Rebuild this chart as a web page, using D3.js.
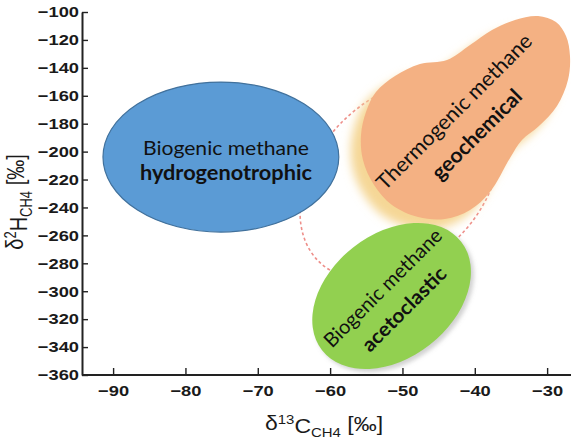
<!DOCTYPE html>
<html><head><meta charset="utf-8">
<script src="https://cdn.jsdelivr.net/npm/d3@7"></script>
<style>body{margin:0;background:#fff}svg{display:block}</style>
</head><body>
<svg id="c" width="571" height="439"></svg>
<script>
// ---- data (isotope space: δ13C ‰, δ2H ‰) ----
const xTicks = [-90, -80, -70, -60, -50, -40, -30];
const yTicks = [-100, -120, -140, -160, -180, -200, -220, -240, -260, -280, -300, -320, -340, -360];
const xDomain = [-94.3, -26.7];
const yDomain = [-360, -100];

// elliptical fields
const shapeRegion = ["hydrogenotrophic", "acetoclastic"];
const shapeCx = [-75.1, -51.5];      // δ13C centre
const shapeCy = [-203.9, -303.4];    // δ2H centre
const shapeRx = [16.3, 12.2];        // δ13C half-width
const shapeRy = [53.7, 44.4];        // δ2H half-height
const shapeAngle = [0, -38];

// thermogenic field outline (δ13C, δ2H)
const thermoD13C = [-43.84, -40.66, -37.62, -34.44, -31.26, -28.78, -27.39, -26.84, -27.12, -28.64, -31.13, -33.48,
  -35.13, -37.90, -40.66, -44.12, -47.85, -51.45, -53.93, -55.46, -55.73, -55.04, -53.66, -51.03, -47.58];
const thermoD2H = [-134.38, -123.64, -112.89, -105.73, -102.86, -107.16, -117.19, -131.51, -148.70, -167.33, -181.65, -191.68,
  -204.57, -228.92, -241.81, -248.26, -246.83, -238.23, -223.91, -206.00, -188.10, -171.62, -157.30, -145.84, -137.24];

// dashed envelope
const envCx = [-50.35], envCy = [-220.3], envRx = [15.9], envRy = [58.7], envAngle = [-45];

// labels
const labelRegion = ["hydrogenotrophic", "geochemical", "acetoclastic"];
const labelLine1 = ["Biogenic methane", "Thermogenic methane", "Biogenic methane"];
const labelLine2 = ["hydrogenotrophic", "geochemical", "acetoclastic"];
const labelX = [-74.4, -41.3, -51.25];
const labelY = [-206.7, -179.5, -305.2];
const labelAngle = [0, -45, -45];

// ---- styles ----
const fills = {hydrogenotrophic: "#5B9BD5", geochemical: "#F4B183", acetoclastic: "#92D050"};
const labelStyle = {
  hydrogenotrophic: {fs: 20, gap: 25, w1: 166, w2: 172},
  geochemical: {fs: 21, gap: 32, w1: 210, w2: 118},
  acetoclastic: {fs: 20, gap: 30, w1: 158, w2: 110}
};

const svg = d3.select("#c");
const x = d3.scaleLinear().domain(xDomain).range([82, 571]);
const y = d3.scaleLinear().domain(yDomain).range([375, 12]);

const defs = svg.append("defs");
defs.append("filter").attr("id", "glow").attr("x", "-50%").attr("y", "-50%").attr("width", "200%").attr("height", "200%")
  .append("feGaussianBlur").attr("stdDeviation", 5);
defs.append("filter").attr("id", "shadow").attr("x", "-50%").attr("y", "-50%").attr("width", "200%").attr("height", "200%")
  .append("feGaussianBlur").attr("stdDeviation", 2);

function ell(sel, cx, cy, rx, ry, ang) {
  return sel.append("g")
    .attr("transform", `translate(${x(cx)},${y(cy)}) rotate(${ang})`)
    .append("ellipse")
    .attr("rx", x(cx + rx) - x(cx))
    .attr("ry", y(cy) - y(cy + ry));
}

// dashed envelope
ell(svg, envCx[0], envCy[0], envRx[0], envRy[0], envAngle[0])
  .attr("fill", "none").attr("stroke", "#EE8F8A").attr("stroke-width", 1.6).attr("stroke-dasharray", "3 2.6");

// blue
ell(svg, shapeCx[0], shapeCy[0], shapeRx[0], shapeRy[0], shapeAngle[0])
  .attr("fill", fills.hydrogenotrophic).attr("stroke", "#41719C").attr("stroke-width", 1.2);

// thermogenic outline
const thermoPts = thermoD13C.map((d, i) => [d, thermoD2H[i]]);
const outline = d3.line().x(d => x(d[0])).y(d => y(d[1])).curve(d3.curveCatmullRomClosed.alpha(0.5));
svg.append("path").attr("d", outline(thermoPts)).attr("transform", "translate(-10,10)")
  .attr("fill", "#F5D796").attr("filter", "url(#glow)");
svg.append("path").attr("d", outline(thermoPts)).attr("fill", fills.geochemical);

// green shadow + green
const shG = svg.append("g").attr("transform", "translate(3,3)").attr("filter", "url(#shadow)");
ell(shG, shapeCx[1], shapeCy[1], shapeRx[1], shapeRy[1], shapeAngle[1]).attr("fill", "#999").attr("opacity", 0.45);
ell(svg, shapeCx[1], shapeCy[1], shapeRx[1], shapeRy[1], shapeAngle[1]).attr("fill", fills.acetoclastic);

// labels
labelRegion.forEach((r, i) => {
  const st = labelStyle[r];
  const g = svg.append("g").attr("transform", `translate(${x(labelX[i])},${y(labelY[i])}) rotate(${labelAngle[i]})`)
    .style("font-family", "Lato, 'Open Sans', sans-serif").style("font-size", st.fs + "px").attr("fill", "#111");
  g.append("text").attr("text-anchor", "middle").attr("y", -st.gap / 2 + 0.35 * st.fs)
    .attr("textLength", st.w1).attr("lengthAdjust", "spacingAndGlyphs").text(labelLine1[i]);
  g.append("text").attr("text-anchor", "middle").attr("y", st.gap / 2 + 0.35 * st.fs)
    .attr("font-weight", "bold").attr("textLength", st.w2).attr("lengthAdjust", "spacingAndGlyphs").text(labelLine2[i]);
});

// axes
const SX = 1.22;
const xAxis = d3.axisBottom(x).tickValues(xTicks).tickSizeInner(-7).tickSizeOuter(0).tickPadding(10).tickFormat(d3.format("d"));
const yAxis = d3.axisLeft(y).tickValues(yTicks).tickSizeInner(-6).tickSizeOuter(0).tickPadding(3).tickFormat(d3.format("d"));

const gx = svg.append("g").attr("transform", `translate(0,${y(-360)})`).call(xAxis);
const gy = svg.append("g").attr("transform", `translate(${x(xDomain[0])},0)`).call(yAxis);
[gx, gy].forEach(g => {
  g.select(".domain").attr("stroke", "#222").attr("stroke-width", 2);
  g.selectAll(".tick line").attr("stroke", "#222").attr("stroke-width", 1.4);
  g.selectAll(".tick text").attr("fill", "#1a1a1a")
    .style("font-family", "'Liberation Sans', Arial, sans-serif").style("font-size", "15px").style("font-weight", "bold")
    .each(function () {
      const t = d3.select(this);
      t.attr("x", (+t.attr("x") || 0) / SX).attr("transform", `scale(${SX},1)`);
    });
});
gx.select(".domain").attr("d", `M${x(xDomain[0])},0H571`);

// axis titles
const xt = svg.append("text").attr("transform", `translate(324,430) scale(1.15,1)`).attr("text-anchor", "middle")
  .style("font-family", "'Liberation Sans', Arial, sans-serif").style("font-size", "20px").attr("fill", "#1a1a1a");
xt.append("tspan").text("δ");
xt.append("tspan").attr("dy", "-0.45em").style("font-size", "13px").text("13");
xt.append("tspan").attr("dy", "0.45em").text("C");
xt.append("tspan").attr("dy", "0.3em").style("font-size", "13px").text("CH4");
xt.append("tspan").attr("dy", "-0.3em").text(" [‰]");

const yt = svg.append("text").attr("transform", `translate(23,202) scale(1.22,1) rotate(-90)`).attr("text-anchor", "middle")
  .style("font-family", "'Liberation Sans', Arial, sans-serif").style("font-size", "20px").attr("fill", "#1a1a1a");
yt.append("tspan").text("δ");
yt.append("tspan").attr("dy", "-0.45em").style("font-size", "13px").text("2");
yt.append("tspan").attr("dy", "0.45em").text("H");
yt.append("tspan").attr("dy", "0.3em").style("font-size", "13px").text("CH4");
yt.append("tspan").attr("dy", "-0.3em").text(" [‰]");
</script>
</body></html>
